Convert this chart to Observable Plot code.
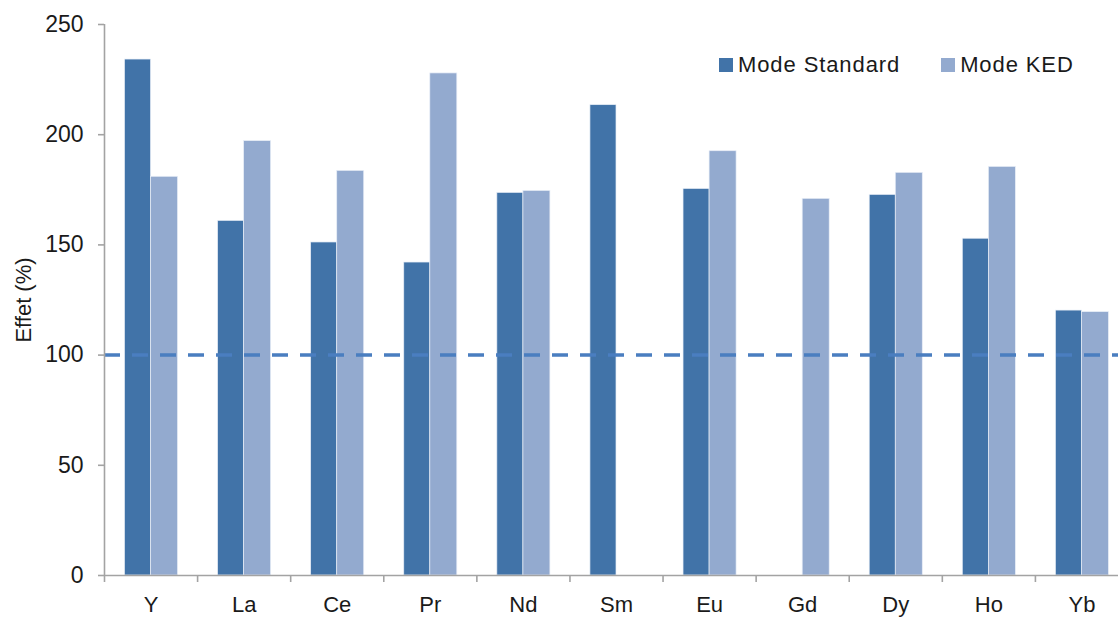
<!DOCTYPE html>
<html>
<head>
<meta charset="utf-8">
<script src="https://cdn.jsdelivr.net/npm/d3@7"></script>
<script src="https://cdn.jsdelivr.net/npm/@observablehq/plot@0.6"></script>
<style>
  html, body { margin: 0; padding: 0; background: #fff; }
  #wrap { position: relative; width: 1118px; height: 617px; overflow: hidden; font-family: "Liberation Sans", Arial, sans-serif; }
  #wrap svg { display: block; }
  #legend { position: absolute; top: 52px; left: 719px; display: flex; font-size: 22px; letter-spacing: 0.9px; color: #1a1a1a; }
  #legend .item { display: flex; align-items: center; }
  #legend .item + .item { margin-left: 41px; }
  #legend .sw { width: 14px; height: 14px; margin-right: 5px; }
</style>
</head>
<body>
<div id="wrap"><div id="legend"></div></div>
<script>
const elements = ["Y", "La", "Ce", "Pr", "Nd", "Sm", "Eu", "Gd", "Dy", "Ho", "Yb"];
const modes = ["Mode Standard", "Mode KED"];
const standard = [234.1, 160.9, 151.1, 142.0, 173.6, 213.4, 175.4, null, 172.7, 152.8, 120.2];
const ked = [180.9, 197.1, 183.6, 227.8, 174.5, null, 192.5, 170.9, 182.7, 185.4, 119.5];
const yTicks = [0, 50, 100, 150, 200, 250];
const reference = [100];
const colors = ["#4173a8", "#93aacf"];

const rows = [];
elements.forEach((el, i) => {
  if (standard[i] != null) rows.push({el, i, mode: modes[0], value: standard[i]});
  if (ked[i] != null) rows.push({el, i, mode: modes[1], value: ked[i]});
});

// bar placement within each category band (fractions of the band)
const slot = {[modes[0]]: [0.22, 0.5], [modes[1]]: [0.5, 0.79]};

const chart = Plot.plot({
  width: 1118,
  height: 617,
  marginLeft: 104,
  marginRight: -10,
  marginTop: 24,
  marginBottom: 42,
  style: {fontFamily: "Liberation Sans, Arial, sans-serif", fontSize: "22px", color: "#1a1a1a", background: "#fff", overflow: "hidden"},
  x: {type: "linear", domain: [0, elements.length], axis: null},
  y: {domain: [0, 250], axis: null},
  color: {domain: modes, range: colors},
  marks: [
    Plot.rectY(rows, {
      x1: d => d.i + slot[d.mode][0],
      x2: d => d.i + slot[d.mode][1],
      y1: 0,
      y2: "value",
      fill: "mode",
      stroke: "#e8eef7",
      strokeWidth: 0.7
    }),
    Plot.ruleY(reference, {stroke: "#4a7ec0", strokeWidth: 3.5, strokeDasharray: "16,12"}),
    Plot.ruleX([0], {stroke: "#a3a3a3", strokeWidth: 1.6}),
    Plot.ruleY([0], {stroke: "#a3a3a3", strokeWidth: 1.6}),
    Plot.axisY({ticks: yTicks, tickSize: 6, tickPadding: 15, stroke: "#a3a3a3", strokeWidth: 1.6, fontSize: 23, label: null, tickFormat: d3.format("d")}),
    Plot.axisX({ticks: d3.range(elements.length + 1), tickSize: 7, stroke: "#a3a3a3", strokeWidth: 1.6, tickFormat: () => "", label: null}),
    Plot.axisX({ticks: elements.map((_, i) => i + 0.5), tickSize: 0, tickPadding: 21, fontSize: 22, tickFormat: v => elements[Math.floor(v)], label: null}),
    Plot.text(["Effet (%)"], {frameAnchor: "left", textAnchor: "middle", rotate: -90, dx: -81, fontSize: 22, fill: "#1a1a1a"})
  ]
});

const wrap = document.getElementById("wrap");
wrap.insertBefore(chart, wrap.firstChild);

const legend = document.getElementById("legend");
modes.forEach((m, k) => {
  const item = document.createElement("div");
  item.className = "item";
  const sw = document.createElement("span");
  sw.className = "sw";
  sw.style.background = colors[k];
  const t = document.createElement("span");
  t.textContent = m;
  item.appendChild(sw);
  item.appendChild(t);
  legend.appendChild(item);
});
</script>
</body>
</html>
